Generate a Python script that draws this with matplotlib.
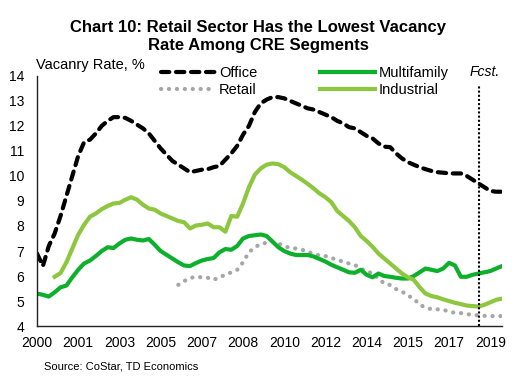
import numpy as np
import matplotlib
matplotlib.use("Agg")
import matplotlib.pyplot as plt

plt.rcParams['font.family'] = ['Liberation Sans', 'DejaVu Sans']

# quarterly, 2000Q1 .. 2019Q4
quarters = [f"{y}Q{q}" for y in range(2000, 2020) for q in range(1, 5)]
tick_every = 7
tick_labels = [q[:4] for q in quarters[::tick_every]]

nan = np.nan
office = [6.9, 6.4, 7.2, 7.7, 8.4, 9.2, 10.0, 10.8, 11.35, 11.45,
          11.7, 12.0, 12.2, 12.35, 12.35, 12.32, 12.2, 12.05, 11.9, 11.7,
          11.4, 11.1, 10.85, 10.6, 10.45, 10.3, 10.15, 10.2, 10.25, 10.27,
          10.35, 10.4, 10.65, 10.9, 11.2, 11.65, 12.0, 12.55, 12.9, 13.05,
          13.15, 13.15, 13.1, 13.0, 12.9, 12.8, 12.7, 12.65, 12.55, 12.45,
          12.35, 12.2, 12.1, 11.95, 11.9, 11.75, 11.6, 11.5, 11.3, 11.17,
          11.15, 10.9, 10.7, 10.55, 10.45, 10.35, 10.27, 10.2, 10.15, 10.13,
          10.1, 10.1, 10.1, 10.0, 9.85, 9.7, 9.55, 9.4, 9.37, 9.37]

multifamily = [5.3, 5.25, 5.18, 5.35, 5.55, 5.62, 5.95, 6.25, 6.5, 6.62,
               6.8, 7.0, 7.15, 7.12, 7.3, 7.45, 7.5, 7.45, 7.42, 7.48,
               7.25, 7.0, 6.85, 6.7, 6.55, 6.42, 6.4, 6.52, 6.62, 6.68,
               6.72, 6.95, 7.08, 7.05, 7.2, 7.5, 7.6, 7.63, 7.66, 7.6,
               7.38, 7.15, 7.0, 6.9, 6.84, 6.84, 6.84, 6.78, 6.68, 6.58,
               6.45, 6.35, 6.25, 6.15, 6.13, 6.25, 6.05, 5.95, 6.1, 6.0,
               5.97, 5.93, 5.9, 5.9, 6.0, 6.15, 6.3, 6.25, 6.2, 6.3,
               6.53, 6.42, 5.97, 5.97, 6.05, 6.1, 6.15, 6.2, 6.3, 6.4]

industrial = [nan, nan, nan, 5.97, 6.12, 6.55, 7.1, 7.65, 8.05, 8.37,
              8.5, 8.67, 8.8, 8.9, 8.92, 9.05, 9.15, 9.05, 8.85, 8.7,
              8.65, 8.5, 8.4, 8.3, 8.2, 8.15, 7.9, 8.02, 8.05, 8.1,
              7.95, 7.95, 7.77, 8.4, 8.37, 8.9, 9.55, 10.05, 10.3, 10.45,
              10.5, 10.47, 10.35, 10.15, 10.0, 9.85, 9.68, 9.5, 9.3, 9.15,
              8.95, 8.6, 8.4, 8.2, 7.95, 7.6, 7.4, 7.17, 6.9, 6.7,
              6.5, 6.3, 6.1, 5.95, 5.85, 5.55, 5.3, 5.2, 5.15, 5.07,
              5.0, 4.93, 4.88, 4.82, 4.8, 4.78, 4.85, 4.95, 5.05, 5.1]

retail = [nan] * 24 + [5.65, 5.8, 5.92, 5.97, 5.95, 5.93,
          5.85, 5.95, 6.05, 6.15, 6.25, 6.55, 6.95, 7.15, 7.28, 7.33,
          7.37, 7.3, 7.2, 7.12, 7.1, 7.05, 6.98, 6.88, 6.82, 6.8,
          6.72, 6.65, 6.57, 6.5, 6.44, 6.3, 6.17, 6.12, 5.9, 5.7,
          5.64, 5.48, 5.38, 5.22, 5.1, 4.85, 4.75, 4.67, 4.67, 4.65,
          4.58, 4.53, 4.52, 4.48, 4.45, 4.43, 4.41, 4.4, 4.4, 4.4]

forecast_start = "2018Q4"

x = np.arange(len(quarters))

fig = plt.figure(figsize=(5.16, 3.85), dpi=100)
ax = fig.add_axes([0.0717, 0.153, 0.9013, 0.650])

ax.plot(x, office, color='black', lw=3, linestyle=(0, (2.0, 1.6)),
        dash_capstyle='round', label='Office')
ax.plot(x, retail, color='#A6A6A6', lw=3, linestyle=(0, (0.05, 1.85)),
        dash_capstyle='round', label='Retail')
ax.plot(x, multifamily, color='#0DB02B', lw=3, label='Multifamily')
ax.plot(x, industrial, color='#8DC63F', lw=3, label='Industrial')

fx = quarters.index(forecast_start)
ax.vlines(fx, 4, 13.65, colors='black', linestyles=(0, (1, 1)), lw=1.5,
          clip_on=False)
ax.text(fx + 1.1, 14.15, 'Fcst.', style='italic', fontsize=10,
        ha='center', va='center')

ax.set_xlim(0, len(quarters) - 1)
ax.set_ylim(4, 14)
ax.set_yticks(range(4, 15))
ax.set_xticks(x[::tick_every])
ax.set_xticklabels(tick_labels)
ax.tick_params(axis='both', length=0, labelsize=10)
ax.tick_params(axis='y', pad=9)
ax.tick_params(axis='x', pad=7)
for s in ['top', 'right']:
    ax.spines[s].set_visible(False)
for s in ['left', 'bottom']:
    ax.spines[s].set_color('#222222')
    ax.spines[s].set_linewidth(1)

ax.text(-0.2, 14.45, 'Vacanry Rate, %', fontsize=10.5, ha='left', va='center')

ax.legend(ncol=2, frameon=False, fontsize=10.5, handlelength=3.8,
          handletextpad=0.2, columnspacing=4.3, labelspacing=0.2,
          loc='upper left', bbox_to_anchor=(0.266, 1.038),
          borderaxespad=0, borderpad=0)

fig.text(0.5, 0.905, 'Chart 10: Retail Sector Has the Lowest Vacancy\nRate Among CRE Segments',
         ha='center', va='center', fontsize=12, fontweight='bold',
         linespacing=1.2)
fig.text(0.085, 0.047, 'Source: CoStar, TD Economics', fontsize=8,
         ha='left', va='center')

fig.savefig('out.png', dpi=100)
